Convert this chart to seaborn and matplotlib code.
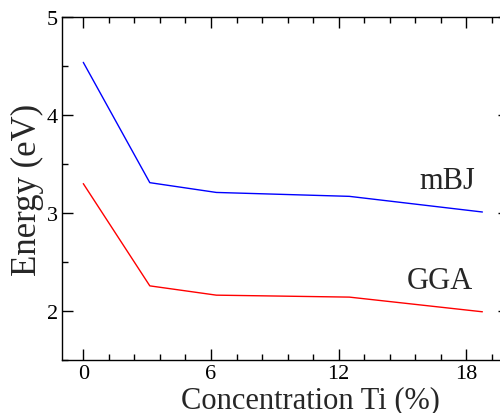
import matplotlib
matplotlib.use("Agg")
import matplotlib.pyplot as plt
from matplotlib.ticker import MultipleLocator
import seaborn as sns
import pandas as pd

# Ti concentration (%) and band gaps (eV) from the two functionals
concentration = [0.0, 3.125, 6.25, 12.5, 18.75]
gap_mbj = [4.54, 3.31, 3.21, 3.17, 3.01]
gap_gga = [3.30, 2.255, 2.16, 2.14, 1.99]
methods = ["mBJ", "GGA"]
method_colors = {"mBJ": "#0000ff", "GGA": "#ff0000"}

df = pd.DataFrame({
    "Concentration": concentration * 2,
    "Energy": gap_mbj + gap_gga,
    "Method": [methods[0]] * len(gap_mbj) + [methods[1]] * len(gap_gga),
})

sns.set_style("ticks")
plt.rcParams["font.family"] = ["Liberation Serif", "DejaVu Serif"]

fig = plt.figure(figsize=(5.0, 4.14), dpi=100)
# axes frame runs slightly past the right edge of the canvas
ax = fig.add_axes([0.124, 0.1287, 0.894, 0.827])

sns.lineplot(data=df, x="Concentration", y="Energy", hue="Method",
             palette=method_colors, linewidth=1.0, legend=False, ax=ax,
             sort=False)

ax.set_xlim(-1, 20)
ax.set_ylim(1.5, 5)
ax.xaxis.set_major_locator(MultipleLocator(6))
ax.xaxis.set_minor_locator(MultipleLocator(1.2))
ax.yaxis.set_major_locator(MultipleLocator(1))
ax.yaxis.set_minor_locator(MultipleLocator(0.5))

for side in ["top", "right", "bottom", "left"]:
    ax.spines[side].set_visible(True)
    ax.spines[side].set_linewidth(1.0)
    ax.spines[side].set_color("black")

ax.tick_params(which="both", direction="in", top=True, right=True,
               colors="black", width=1.0)
ax.tick_params(which="major", length=8, labelsize=16, pad=3)
ax.tick_params(axis="x", which="major", pad=3)
ax.tick_params(which="minor", length=4)

ax.set_xlabel("Concentration Ti (%)", fontsize=22, labelpad=0)
ax.xaxis.set_label_coords(0.555, -0.075, transform=ax.transAxes)
ax.xaxis.label.set_va("top")
ax.set_ylabel("Energy (eV)", fontsize=25, labelpad=2)

ax.text(18.4, 3.33, "mBJ", fontsize=22, ha="right", va="center")
ax.text(18.3, 2.31, "GGA", fontsize=22, ha="right", va="center")

fig.savefig("out.png", dpi=100)
